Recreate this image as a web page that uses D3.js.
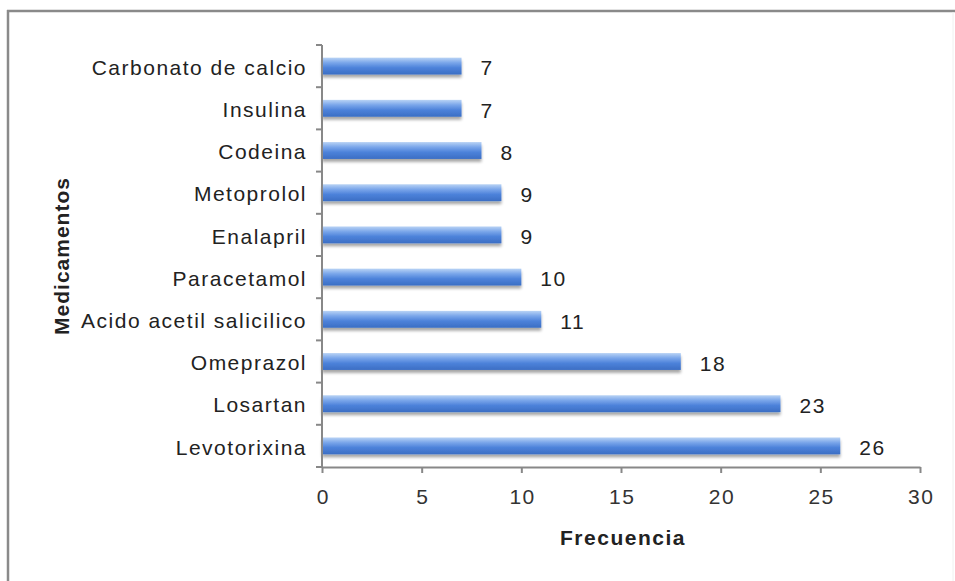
<!DOCTYPE html>
<html><head><meta charset="utf-8">
<script src="https://cdn.jsdelivr.net/npm/d3@7"></script>
<style>body{margin:0;background:#fff;}svg{display:block;font-family:"Liberation Sans",Arial,sans-serif;}</style>
</head><body>
<svg id="c" width="955" height="581"></svg>
<script>
const categories = ["Carbonato de calcio","Insulina","Codeina","Metoprolol","Enalapril","Paracetamol","Acido acetil salicilico","Omeprazol","Losartan","Levotorixina"];
const values = [7,7,8,9,9,10,11,18,23,26];
const xTicks = [0,5,10,15,20,25,30];
const xTitle = "Frecuencia";
const yTitle = "Medicamentos";

const FS = 21, LS = "1.5px";
const svg = d3.select("#c");
// frame (only top and left edges visible)
svg.append("line").attr("x1",7).attr("x2",955).attr("y1",11).attr("y2",11).attr("stroke","#8a8a8a").attr("stroke-width",2.5);
svg.append("line").attr("x1",8).attr("x2",8).attr("y1",10).attr("y2",581).attr("stroke","#8a8a8a").attr("stroke-width",2.5);
svg.append("line").attr("x1",953).attr("x2",953).attr("y1",12).attr("y2",581).attr("stroke","#f0f0f0").attr("stroke-width",1);

const defs = svg.append("defs");
const g1 = defs.append("linearGradient").attr("id","bg").attr("x1",0).attr("y1",0).attr("x2",0).attr("y2",1);
[[0,"#b9d3f5"],[0.3,"#7aa6ea"],[0.6,"#4d82da"],[1,"#3b6ec4"]].forEach(([o,c])=>g1.append("stop").attr("offset",o).attr("stop-color",c));
const f = defs.append("filter").attr("id","sh").attr("x","-5%").attr("y","-20%").attr("width","110%").attr("height","160%");
f.append("feGaussianBlur").attr("in","SourceAlpha").attr("stdDeviation",1.5);
f.append("feOffset").attr("dx",0).attr("dy",3).attr("result","ob");
f.append("feComponentTransfer").append("feFuncA").attr("type","linear").attr("slope",0.35);
const fm = f.append("feMerge"); fm.append("feMergeNode"); fm.append("feMergeNode").attr("in","SourceGraphic");

const x = d3.scaleLinear().domain([0,30]).range([322,920]);
const y = d3.scaleBand().domain(categories).range([45,467]).paddingInner(0.6).paddingOuter(0.3);

svg.append("g").selectAll("rect").data(values).join("rect")
  .attr("x",x(0)).attr("y",(d,i)=>y(categories[i]))
  .attr("width",d=>x(d)-x(0)).attr("height",y.bandwidth())
  .attr("fill","url(#bg)").attr("filter","url(#sh)");

// value labels
svg.append("g").selectAll("text").data(values).join("text")
  .attr("x",d=>x(d)+19).attr("y",(d,i)=>y(categories[i])+y.bandwidth()/2+2)
  .attr("dy","0.35em").attr("font-size",FS).attr("letter-spacing",LS).attr("fill","#222").text(d=>d);

// x axis
const xa = svg.append("g").attr("transform","translate(0,467)")
  .call(d3.axisBottom(x).tickValues(xTicks).tickSize(6).tickSizeOuter(0).tickPadding(16));
xa.select(".domain").attr("stroke","#888").attr("stroke-width",2);
xa.selectAll(".tick line").attr("stroke","#888").attr("stroke-width",2);
xa.selectAll("text").attr("font-size",FS).attr("letter-spacing",LS).attr("dx","0.75px").attr("fill","#333").attr("font-family","Liberation Sans,Arial,sans-serif");

// y axis
const yStep = 422/categories.length;
const ya = svg.append("g").attr("transform","translate(322,2)")
  .call(d3.axisLeft(y).tickSize(0).tickPadding(15));
ya.select(".domain").remove();
ya.selectAll("text").attr("font-size",FS).attr("letter-spacing",LS).attr("fill","#222").attr("font-family","Liberation Sans,Arial,sans-serif");
svg.append("line").attr("x1",322).attr("x2",322).attr("y1",45).attr("y2",467).attr("stroke","#888").attr("stroke-width",2);
svg.append("g").selectAll("line").data(d3.range(categories.length+1)).join("line")
  .attr("x1",316).attr("x2",322).attr("y1",i=>45+i*yStep).attr("y2",i=>45+i*yStep)
  .attr("stroke","#888").attr("stroke-width",2);

svg.append("text").attr("x",623).attr("y",545).attr("text-anchor","middle")
  .attr("font-size",FS).attr("letter-spacing",LS).attr("font-weight","bold").attr("fill","#222").text(xTitle);
svg.append("text").attr("transform","translate(69,256) rotate(-90)").attr("text-anchor","middle")
  .attr("font-size",FS).attr("letter-spacing","1px").attr("font-weight","bold").attr("fill","#222").text(yTitle);
</script>
</body></html>
